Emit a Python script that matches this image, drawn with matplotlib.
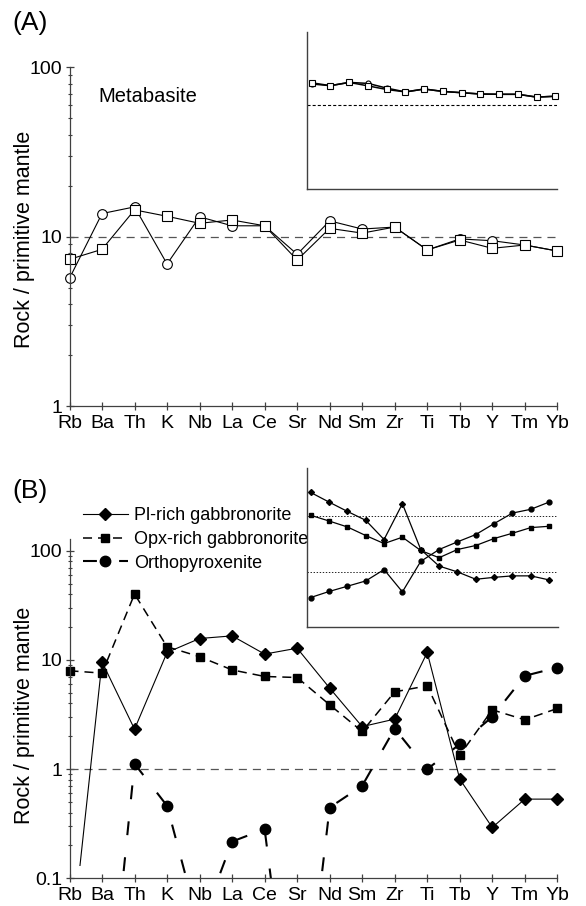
import numpy as np
import matplotlib
matplotlib.use('Agg')
import matplotlib.pyplot as plt
from matplotlib.patches import Rectangle
from matplotlib.ticker import LogLocator, NullFormatter, FixedLocator

plt.rcParams['font.family'] = ['Liberation Sans', 'DejaVu Sans']
plt.rcParams['lines.scale_dashes'] = False

# spider diagram elements (primitive-mantle normalised)
elements = ['Rb', 'Ba', 'Th', 'K', 'Nb', 'La', 'Ce', 'Sr', 'Nd', 'Sm', 'Zr', 'Ti', 'Tb', 'Y', 'Tm', 'Yb']
# REE used in the insets
ree = ['La', 'Ce', 'Pr', 'Nd', 'Sm', 'Eu', 'Gd', 'Tb', 'Dy', 'Ho', 'Er', 'Tm', 'Yb', 'Lu']

# (A) metabasite, two samples
meta_circle = [5.68, 13.7, 15.0, 6.9, 13.1, 11.6, 11.6, 7.87, 12.4, 11.1, 11.4, 8.35, 9.7, 9.47, 8.93, 8.23]
meta_square = [7.35, 8.42, 14.4, 13.2, 12.0, 12.55, 11.6, 7.28, 11.2, 10.5, 11.4, 8.35, 9.56, 8.54, 8.93, 8.23]
meta_ree_circle = [17.9, 17.1, 18.7, 18.2, 16.0, 14.4, 15.6, 14.6, 14.1, 13.6, 13.5, 13.5, 12.5, 12.8]
meta_ree_square = [18.5, 17.1, 18.7, 17.0, 15.4, 14.4, 15.6, 14.6, 14.1, 13.6, 13.5, 13.5, 12.5, 12.8]

# (B) gabbronorites and orthopyroxenite
pl_rich = [0.017, 9.6, 2.32, 11.7, 15.7, 16.6, 11.3, 12.8, 5.52, 2.45, 2.87, 11.7, 0.81, 0.292, 0.531, 0.531]
opx_rich = [7.95, 7.57, 40.1, 13.2, 10.7, 8.1, 7.05, 6.9, 3.88, 2.21, 5.1, 5.79, 1.34, 3.49, 2.83, 3.59]
orthopyx = [0.0012, 0.0013, 1.12, 0.461, 0.035, 0.217, 0.282, 0.0013, 0.445, 0.703, 2.35, 1.0, 1.69, 3.01, 7.15, 8.51]
pl_ree = [26.5, 17.8, 12.1, 8.37, 3.78, 16.6, 2.5, 1.26, 0.99, 0.73, 0.79, 0.84, 0.84, 0.71]
opx_ree = [10.3, 8.14, 6.36, 4.46, 3.2, 4.16, 2.4, 1.78, 2.5, 2.95, 3.94, 4.9, 6.19, 6.54]
ortho_ree = [0.343, 0.44, 0.547, 0.681, 1.09, 0.433, 1.53, 2.5, 3.43, 4.64, 7.3, 11.3, 13.2, 17.8]

W, H = 586, 906
fig = plt.figure(figsize=(W / 100, H / 100), dpi=100)


def px_axes(left, top, right, bottom):
    return fig.add_axes([left / W, 1 - bottom / H, (right - left) / W, (bottom - top) / H])


axis_col = '#404040'
x = np.arange(len(elements))
xr = np.arange(len(ree))


def style_main(ax, ymin, ymax, majors, labels):
    ax.set_xlim(0, len(elements) - 1)
    ax.set_yscale('log')
    ax.set_ylim(ymin, ymax)
    for s in ['top', 'right']:
        ax.spines[s].set_visible(False)
    for s in ['left', 'bottom']:
        ax.spines[s].set_color(axis_col)
        ax.spines[s].set_linewidth(0.9)
    ax.set_xticks(x)
    ax.set_xticklabels(elements, fontsize=14)
    ax.yaxis.set_major_locator(FixedLocator(majors))
    ax.set_yticklabels(labels, fontsize=14)
    ax.yaxis.set_minor_locator(LogLocator(subs=np.arange(2, 10)))
    ax.yaxis.set_minor_formatter(NullFormatter())
    ax.tick_params(axis='x', direction='inout', length=6, width=0.9, color=axis_col, pad=3.5)
    ax.tick_params(axis='y', which='major', direction='inout', length=6, width=0.9, color=axis_col, pad=2)
    ax.tick_params(axis='y', which='minor', direction='inout', length=3, width=0.8, color=axis_col)


def style_inset(ax, xlim, ylim):
    ax.set_yscale('log')
    ax.set_xlim(*xlim)
    ax.set_ylim(*ylim)
    for s in ['top', 'right']:
        ax.spines[s].set_visible(False)
    for s in ['left', 'bottom']:
        ax.spines[s].set_color(axis_col)
        ax.spines[s].set_linewidth(1.0)
    ax.set_xticks([])
    ax.set_yticks([])
    ax.minorticks_off()
    ax.patch.set_alpha(0)


# ---------------- panel A ----------------
axA = px_axes(69.5, 67.4, 557.3, 406)
style_main(axA, 1, 100, [1, 10, 100], ['1', '10', '100'])
axA.axhline(10, color='#555555', lw=0.9, dashes=(5.8, 4.3))
axA.plot(x, meta_circle, color='black', lw=0.8, marker='o', ms=7, mfc='white', mec='black',
         mew=0.8, clip_on=False)
axA.plot(x, meta_square, color='black', lw=0.8, marker='s', ms=7, mfc='white', mec='black',
         mew=0.8, clip_on=False)
fig.text(98 / W, 1 - 96 / H, 'Metabasite', fontsize=14.5, ha='left', va='center')

insA = px_axes(307.3, 31.7, 557.3, 189.3)
style_inset(insA, (-0.235, 13.1), (1, 75))
insA.axhline(10, color='black', lw=0.8, dashes=(2.2, 1.5))
insA.plot(xr, meta_ree_circle, color='black', lw=1.1, marker='o', ms=3.6, mfc='white', mec='black',
          mew=0.8, clip_on=False)
insA.plot(xr, meta_ree_square, color='black', lw=1.1, marker='s', ms=4.2, mfc='white', mec='black',
          mew=0.8, clip_on=False)

# ---------------- panel B ----------------
axB = px_axes(69.5, 539, 557.3, 878.3)
style_main(axB, 0.1, 128, [0.1, 1, 10, 100], ['0.1', '1', '10', '100'])
axB.axhline(1, color='#555555', lw=0.9, dashes=(5.8, 4.3))

opx_line, = axB.plot(x, opx_rich, color='black', lw=1.1, dashes=(6.5, 4.3), marker='s', ms=6,
                     label='Opx-rich gabbronorite', clip_on=False)
pl_line, = axB.plot(x, pl_rich, color='black', lw=0.8, marker='D', ms=6,
                    label='Pl-rich gabbronorite')
pl_line.set_clip_path(Rectangle((-1, 0.13), 20, 1e4, transform=axB.transData))
ortho_line, = axB.plot(x, orthopyx, color='black', lw=1.5, dashes=(10, 16), marker='o', ms=7.5,
                       label='Orthopyroxenite')
ortho_line.set_clip_path(Rectangle((-1, 0.1), 20, 1e4, transform=axB.transData))

axB.legend(handles=[pl_line, opx_line, ortho_line], loc='upper left',
           bbox_to_anchor=(82.7 / W, 1 - 507 / H), bbox_transform=fig.transFigure,
           frameon=False, fontsize=13, handlelength=2.5, handletextpad=0.35,
           labelspacing=0.38, borderpad=0, borderaxespad=0, numpoints=1)

insB = px_axes(307.3, 468.3, 558.3, 627.3)
style_inset(insB, (-0.185, 13.5), (0.1, 72))
for lvl in [1, 10]:
    insB.axhline(lvl, color='black', lw=0.6, dashes=(1, 1.2))
insB.plot(xr, pl_ree, color='black', lw=0.9, marker='D', ms=3, clip_on=False)
insB.plot(xr, opx_ree, color='black', lw=0.9, marker='s', ms=3, clip_on=False)
insB.plot(xr, ortho_ree, color='black', lw=0.9, marker='o', ms=3.5, clip_on=False)

# panel letters and axis titles
fig.text(12 / W, 1 - 23 / H, '(A)', fontsize=19, ha='left', va='center')
fig.text(12 / W, 1 - 491 / H, '(B)', fontsize=19, ha='left', va='center')
fig.text(24.5 / W, 1 - 239 / H, 'Rock / primitive mantle', fontsize=15.5, rotation=90,
         ha='center', va='center')
fig.text(24.5 / W, 1 - 715 / H, 'Rock / primitive mantle', fontsize=15.5, rotation=90,
         ha='center', va='center')

fig.savefig('out.png', dpi=100)
